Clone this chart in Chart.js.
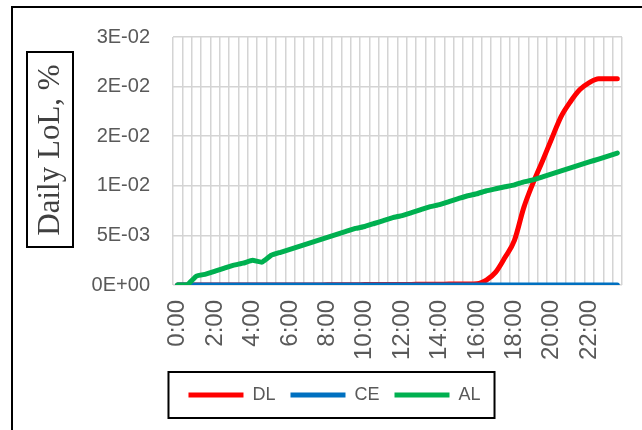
<!DOCTYPE html>
<html>
<head>
<meta charset="utf-8">
<script src="https://cdn.jsdelivr.net/npm/chart.js@4"></script>
<style>
  body { margin: 0; background: #fff; }
  #wrap { width: 642px; height: 430px; }
</style>
</head>
<body>
<div id="wrap"><canvas id="canvasLoL" width="642" height="430"></canvas></div>
<script>
const times = ['0:00', '0:30', '1:00', '1:30', '2:00', '2:30', '3:00', '3:30',
    '4:00', '4:30', '5:00', '5:30', '6:00', '6:30', '7:00', '7:30',
    '8:00', '8:30', '9:00', '9:30', '10:00', '10:30', '11:00', '11:30',
    '12:00', '12:30', '13:00', '13:30', '14:00', '14:30', '15:00', '15:30',
    '16:00', '16:30', '17:00', '17:30', '18:00', '18:30', '19:00', '19:30',
    '20:00', '20:30', '21:00', '21:30', '22:00', '22:30', '23:00', '23:30']

const dl = [0, 0, 0, 0, 0, 0, 0, 0,
    0, 0, 0, 0, 0, 0, 0, 0,
    0.00002, 0.00002, 0.00003, 0.00003, 0.00004, 0.00004, 0.00005, 0.00005,
    0.00006, 0.00006, 0.00007, 0.00007, 0.00008, 0.00009, 0.0001, 0.00011,
    0.00013, 0.0005, 0.0013, 0.0028, 0.0045, 0.0078, 0.0103, 0.0125,
    0.0148, 0.0170, 0.0185, 0.0197, 0.0204, 0.0208, 0.0208, 0.0208]

const ce = [0, 0, 0, 0, 0, 0, 0, 0, 0, 0, 0, 0, 0, 0, 0, 0,
    0, 0, 0, 0, 0, 0, 0, 0, 0, 0, 0, 0, 0, 0, 0, 0,
    0, 0, 0, 0, 0, 0, 0, 0, 0, 0, 0, 0, 0, 0, 0, 0]

const al = [0, 0, 0.0009, 0.0011, 0.0014, 0.0017, 0.0020, 0.0022,
    0.0025, 0.0023, 0.0030, 0.0033, 0.0036, 0.0039, 0.0042, 0.0045,
    0.0048, 0.0051, 0.0054, 0.0057, 0.0059, 0.0062, 0.0065, 0.0068,
    0.0070, 0.0073, 0.0076, 0.0079, 0.0081, 0.0084, 0.0087, 0.0090,
    0.0092, 0.0095, 0.0097, 0.0099, 0.0101, 0.0104, 0.0106, 0.0109,
    0.0112, 0.0115, 0.0118, 0.0121, 0.0124, 0.0127, 0.0130, 0.0133]

const yTickLabels = ['0E+00', '5E-03', '1E-02', '2E-02', '2E-02', '3E-02']

// frame, boxed y title and legend box (Excel look)
const decorations = {
    id: 'decorations',
    afterDraw(chart) {
        const ctx = chart.ctx
        ctx.save()
        ctx.strokeStyle = '#000'
        ctx.lineWidth = 2
        ctx.beginPath()
        ctx.moveTo(12, 430)
        ctx.lineTo(12, 7)
        ctx.lineTo(642, 7)
        ctx.stroke()

        ctx.strokeRect(27, 52, 46, 195)
        ctx.translate(50, 150)
        ctx.rotate(-Math.PI / 2)
        ctx.fillStyle = '#404040'
        ctx.font = '31px "Liberation Serif"'
        ctx.textAlign = 'center'
        ctx.textBaseline = 'middle'
        ctx.fillText('Daily LoL, %', 0, 1)
        ctx.restore()

        const boxes = chart.legend.legendHitBoxes
        if (boxes && boxes.length) {
            const l = Math.min(...boxes.map(b => b.left)) - 20
            const r = Math.max(...boxes.map(b => b.left + b.width)) + 14
            const cy = boxes[0].top + boxes[0].height / 2
            ctx.save()
            ctx.strokeStyle = '#000'
            ctx.lineWidth = 2
            ctx.strokeRect(l, cy - 23, r - l, 46)
            ctx.restore()
        }
    }
}

const lineCommon = {
    borderWidth: 5,
    pointRadius: 0,
    borderCapStyle: 'round',
    borderJoinStyle: 'round',
    fill: false
}

new Chart(document.getElementById('canvasLoL').getContext('2d'), {
    type: 'line',
    data: {
        labels: times,
        datasets: [
            { ...lineCommon, label: 'DL', data: dl, borderColor: '#FF0000', backgroundColor: '#FF0000', cubicInterpolationMode: 'monotone', order: 2 },
            { ...lineCommon, label: 'CE', data: ce, borderColor: '#0070C0', backgroundColor: '#0070C0', order: 1 },
            { ...lineCommon, label: 'AL', data: al, borderColor: '#00B050', backgroundColor: '#00B050', tension: 0.1, order: 0 }
        ]
    },
    options: {
        responsive: false,
        animation: false,
        layout: { padding: { left: 47, right: 20, top: 37, bottom: 16 } },
        plugins: {
            title: { display: false },
            tooltip: { enabled: false },
            legend: {
                display: true,
                position: 'bottom',
                labels: {
                    usePointStyle: true,
                    pointStyle: 'line',
                    pointStyleWidth: 55,
                    padding: 15,
                    color: '#595959',
                    font: { family: '"Liberation Sans"', size: 18 },
                    sort: (a, b) => a.datasetIndex - b.datasetIndex
                }
            }
        },
        scales: {
            x: {
                offset: true,
                grid: { offset: true, color: '#d4d4d4', lineWidth: 1.5, drawTicks: false },
                border: { display: false },
                ticks: {
                    autoSkip: false,
                    minRotation: 90,
                    maxRotation: 90,
                    padding: 15,
                    color: '#595959',
                    font: { family: '"Liberation Sans"', size: 24 },
                    callback: (v, i) => i % 4 === 0 ? times[i] : ''
                },
                afterFit: scale => {
                    scale.height = 86
                    scale.paddingLeft = 0
                    scale.paddingRight = 0
                }
            },
            y: {
                min: 0,
                max: 0.025,
                grid: { color: '#d4d4d4', lineWidth: 1.5, drawTicks: false },
                border: { display: false },
                ticks: {
                    stepSize: 0.005,
                    padding: 23,
                    color: '#595959',
                    font: { family: '"Liberation Sans"', size: 20 },
                    callback: (v, i) => yTickLabels[i]
                },
                afterFit: scale => { scale.width = 126 }
            }
        }
    },
    plugins: [decorations]
})
</script>
</body>
</html>
